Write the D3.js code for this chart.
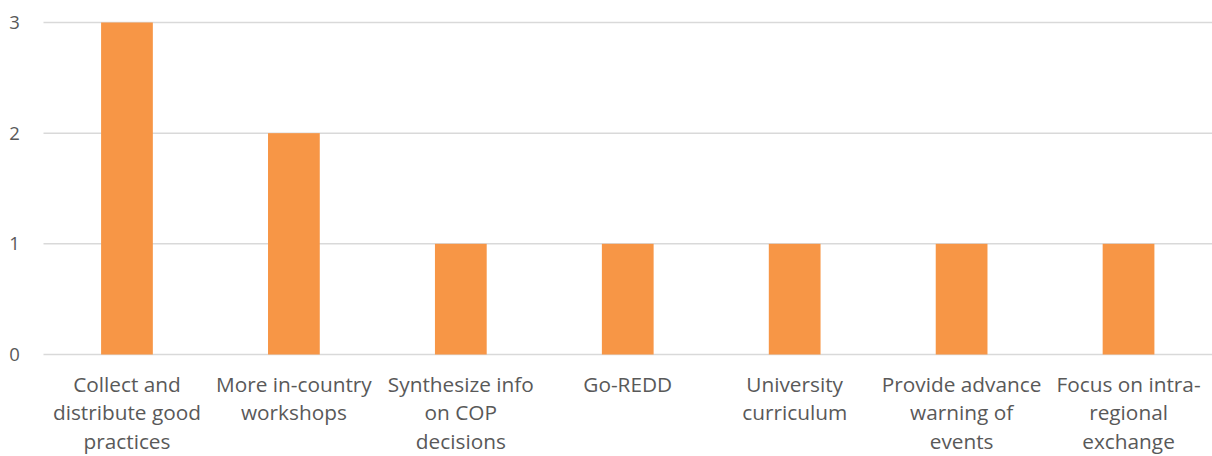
<!DOCTYPE html>
<html>
<head>
<meta charset="utf-8">
<script src="https://cdn.jsdelivr.net/npm/d3@7/dist/d3.min.js"></script>
<style>
  body { margin: 0; background: #fff; }
  svg text { font-family: "Open Sans", sans-serif; fill: #595959; }
</style>
</head>
<body>
<svg id="chart" width="1212" height="456"></svg>
<script>
// chart data
var categories = [
  "Collect and\ndistribute good\npractices",
  "More in-country\nworkshops",
  "Synthesize info\non COP\ndecisions",
  "Go-REDD",
  "University\ncurriculum",
  "Provide advance\nwarning of\nevents",
  "Focus on intra-\nregional\nexchange"
];
var values = [3, 2, 1, 1, 1, 1, 1];
var yTicks = [0, 1, 2, 3];

var margin = {top: 22.5, right: 0, bottom: 101.5, left: 43.5};
var width = 1212 - margin.left - margin.right,
  height = 456 - margin.top - margin.bottom;

var svg = d3.select("#chart");
var g = svg.append("g")
  .attr("transform", "translate(" + margin.left + "," + margin.top + ")");

var x = d3.scaleBand()
  .domain(d3.range(categories.length))
  .range([0, width])
  .paddingInner(0.69)
  .paddingOuter(0.345);

var y = d3.scaleLinear()
  .domain([0, 3])
  .range([height, 0]);

// gridlines
g.selectAll(".grid")
  .data(yTicks)
  .enter().append("line")
  .attr("class", "grid")
  .attr("x1", 0)
  .attr("x2", width)
  .attr("y1", function(d) { return y(d); })
  .attr("y2", function(d) { return y(d); })
  .attr("stroke", "#d9d9d9")
  .attr("stroke-width", 1.5);

// y tick labels
g.selectAll(".ylab")
  .data(yTicks)
  .enter().append("text")
  .attr("class", "ylab")
  .attr("x", -29)
  .attr("y", function(d) { return y(d); })
  .attr("dy", "0.35em")
  .attr("text-anchor", "middle")
  .style("font-size", "18.5px")
  .text(function(d) { return d; });

// bars
g.selectAll(".bar")
  .data(values)
  .enter().append("rect")
  .attr("class", "bar")
  .attr("x", function(d, i) { return x(i); })
  .attr("width", x.bandwidth())
  .attr("y", function(d) { return y(d); })
  .attr("height", function(d) { return height - y(d); })
  .attr("fill", "#f79646");

// category labels
var labels = g.selectAll(".xlab")
  .data(categories)
  .enter().append("text")
  .attr("class", "xlab")
  .attr("text-anchor", "middle")
  .attr("transform", function(d, i) {
    return "translate(" + (x(i) + x.bandwidth() / 2) + "," + (height + 37) + ")";
  })
  .style("font-size", "20.8px");

labels.selectAll("tspan")
  .data(function(d) { return d.split("\n"); })
  .enter().append("tspan")
  .attr("x", 0)
  .attr("y", function(d, i) { return i * 28.5; })
  .text(function(d) { return d; });
</script>
</body>
</html>
